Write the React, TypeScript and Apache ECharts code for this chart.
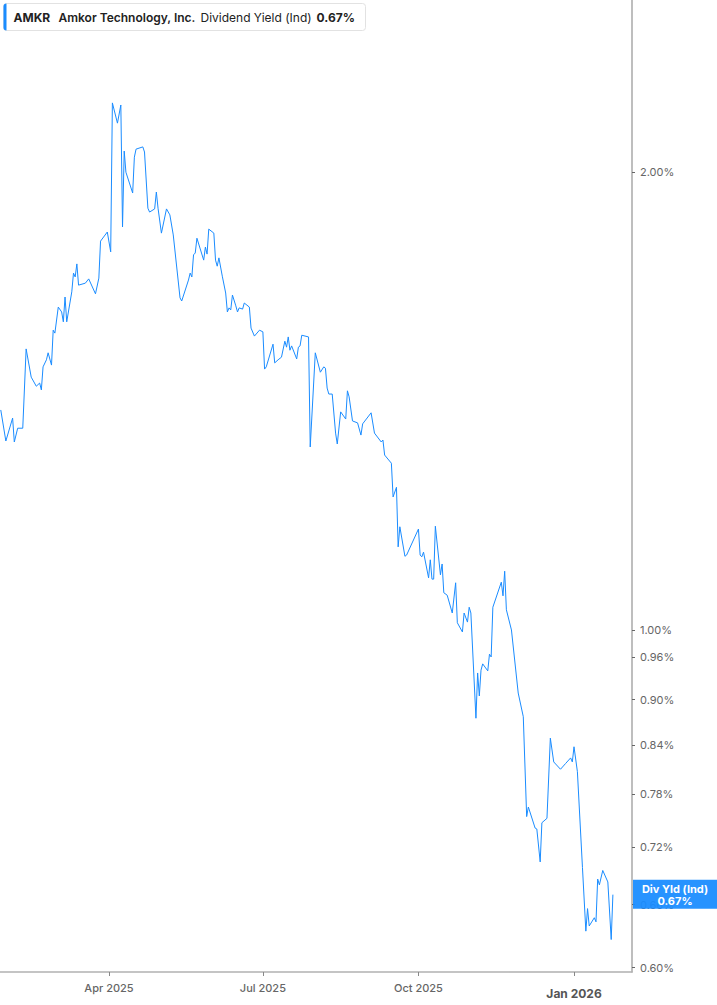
import React, { useEffect, useRef } from 'react'
import * as echarts from 'echarts'

// AMKR dividend yield (%)
const dates = [
  '2025-01-27','2025-01-30','2025-02-03','2025-02-04','2025-02-06','2025-02-09','2025-02-11','2025-02-14','2025-02-17','2025-02-19',
  '2025-02-20','2025-02-21','2025-02-23','2025-02-24','2025-02-26','2025-02-27','2025-02-28','2025-03-02','2025-03-04','2025-03-05',
  '2025-03-06','2025-03-07','2025-03-10','2025-03-11','2025-03-12','2025-03-13','2025-03-14','2025-03-18','2025-03-20','2025-03-24',
  '2025-03-26','2025-03-27','2025-03-31','2025-04-02','2025-04-03','2025-04-06','2025-04-08','2025-04-09','2025-04-10','2025-04-11',
  '2025-04-15','2025-04-16','2025-04-17','2025-04-21','2025-04-22','2025-04-24','2025-04-25','2025-04-28','2025-04-29','2025-04-30',
  '2025-05-02','2025-05-05','2025-05-07','2025-05-09','2025-05-13','2025-05-14','2025-05-18','2025-05-19','2025-05-20','2025-05-21',
  '2025-05-22','2025-05-23','2025-05-27','2025-05-28','2025-05-29','2025-05-30','2025-06-02','2025-06-03','2025-06-04','2025-06-05',
  '2025-06-07','2025-06-09','2025-06-10','2025-06-11','2025-06-12','2025-06-13','2025-06-15','2025-06-16','2025-06-17','2025-06-19',
  '2025-06-20','2025-06-23','2025-06-24','2025-06-26','2025-06-29','2025-07-01','2025-07-02','2025-07-03','2025-07-07','2025-07-08',
  '2025-07-10','2025-07-12','2025-07-14','2025-07-15','2025-07-16','2025-07-17','2025-07-18','2025-07-21','2025-07-22','2025-07-23',
  '2025-07-24','2025-07-28','2025-07-29','2025-08-01','2025-08-04','2025-08-06','2025-08-07','2025-08-08','2025-08-09','2025-08-11',
  '2025-08-13','2025-08-14','2025-08-16','2025-08-19','2025-08-20','2025-08-21','2025-08-23','2025-08-26','2025-08-28','2025-08-29',
  '2025-09-03','2025-09-05','2025-09-09','2025-09-10','2025-09-11','2025-09-15','2025-09-16','2025-09-18','2025-09-19','2025-09-20',
  '2025-09-23','2025-09-24','2025-10-01','2025-10-02','2025-10-03','2025-10-04','2025-10-07','2025-10-08','2025-10-09','2025-10-10',
  '2025-10-11','2025-10-14','2025-10-15','2025-10-16','2025-10-18','2025-10-21','2025-10-23','2025-10-24','2025-10-27','2025-10-28',
  '2025-10-30','2025-10-31','2025-11-01','2025-11-04','2025-11-05','2025-11-06','2025-11-07','2025-11-08','2025-11-11','2025-11-12',
  '2025-11-13','2025-11-14','2025-11-19','2025-11-20','2025-11-21','2025-11-22','2025-11-25','2025-11-29','2025-12-02','2025-12-04',
  '2025-12-05','2025-12-09','2025-12-10','2025-12-12','2025-12-13','2025-12-16','2025-12-18','2025-12-20','2025-12-24','2025-12-27',
  '2025-12-30','2025-12-31','2026-01-01','2026-01-03','2026-01-06','2026-01-08','2026-01-09','2026-01-10','2026-01-13','2026-01-14',
  '2026-01-15','2026-01-16','2026-01-18','2026-01-21','2026-01-23','2026-01-24',
]
const yields = [
  1.395,1.331,1.378,1.329,1.357,1.357,1.530,1.466,1.446,1.453,
  1.438,1.489,1.505,1.521,1.493,1.574,1.567,1.630,1.618,1.594,
  1.655,1.594,1.668,1.716,1.706,1.740,1.685,1.690,1.701,1.663,
  1.703,1.801,1.826,1.772,2.220,2.153,2.213,1.840,2.064,1.999,
  1.937,2.045,2.070,2.077,2.061,1.893,1.882,1.891,1.940,1.893,
  1.823,1.891,1.874,1.818,1.653,1.645,1.698,1.716,1.706,1.764,
  1.769,1.809,1.750,1.785,1.766,1.834,1.823,1.750,1.734,1.756,
  1.708,1.665,1.618,1.628,1.623,1.660,1.633,1.618,1.628,1.625,
  1.640,1.630,1.579,1.560,1.574,1.570,1.484,1.489,1.541,1.498,
  1.505,1.511,1.548,1.534,1.558,1.527,1.537,1.507,1.534,1.537,
  1.562,1.558,1.319,1.521,1.477,1.489,1.486,1.442,1.429,1.429,
  1.347,1.325,1.391,1.376,1.436,1.423,1.372,1.368,1.343,1.366,
  1.389,1.347,1.329,1.333,1.303,1.287,1.223,1.241,1.134,1.169,
  1.118,1.120,1.165,1.120,1.117,1.125,1.082,1.112,1.080,1.080,
  1.170,1.087,1.105,1.058,1.054,1.026,1.074,1.011,0.997,1.026,
  1.012,1.035,1.026,0.875,0.937,0.905,0.941,0.950,0.940,0.964,
  0.960,1.035,1.075,1.053,1.093,1.031,1.000,0.909,0.877,0.754,
  0.765,0.741,0.740,0.704,0.747,0.752,0.849,0.819,0.810,0.817,
  0.824,0.819,0.838,0.807,0.698,0.634,0.656,0.639,0.647,0.643,
  0.686,0.680,0.695,0.683,0.626,0.67,
]
const yTicks = [0.6, 0.66, 0.72, 0.78, 0.84, 0.9, 0.96, 1.0, 2.0]
const xTicks = ['2025-04-01', '2025-07-01', '2025-10-01', '2026-01-01']
const months = ['Jan','Feb','Mar','Apr','May','Jun','Jul','Aug','Sep','Oct','Nov','Dec']

const BLUE = '#1a8cff'
const FONT = 'Inter, "Noto Sans", sans-serif'
const ts = (s: string) => Date.parse(s + 'T00:00:00Z')

export default function App() {
  const ref = useRef<HTMLDivElement>(null)

  useEffect(() => {
    if (!ref.current) return
    const chart = echarts.init(ref.current, null, { renderer: 'svg' })
    const last = yields[yields.length - 1]
    const lastTxt = last.toFixed(2) + '%'
    chart.setOption({
      animation: false,
      textStyle: { fontFamily: FONT },
      grid: { left: 0, right: 85, top: 0, bottom: 33, containLabel: false },
      // time on a plain value axis (ms since epoch, UTC)
      xAxis: {
        type: 'value',
        min: Date.UTC(2025, 0, 26, 13),
        max: Date.UTC(2026, 1, 4, 7),
        axisLine: { onZero: false, lineStyle: { color: '#b0b0b0', width: 1.5 } },
        axisTick: { customValues: xTicks.map(ts), length: 4, lineStyle: { color: '#888' } },
        splitLine: { show: false },
        axisLabel: {
          customValues: xTicks.map(ts),
          margin: 10,
          color: '#666',
          fontSize: 11,
          fontWeight: 500,
          fontFamily: FONT,
          formatter: (v: number) => {
            const d = new Date(v)
            const t = months[d.getUTCMonth()] + ' ' + d.getUTCFullYear()
            return d.getUTCMonth() === 0 ? '{b|' + t + '}' : t
          },
          rich: { b: { fontWeight: 'bold', fontSize: 12, color: '#555', fontFamily: FONT, padding: [5, 0, 0, 0] } },
        },
      },
      yAxis: {
        type: 'value',
        position: 'right',
        min: Math.log(0.596),
        max: Math.log(2.594),
        axisLine: { show: true, onZero: false, lineStyle: { color: '#a8a8a8', width: 1.5 } },
        axisTick: { show: true, customValues: yTicks.map(Math.log), length: 3, lineStyle: { color: '#666' } },
        splitLine: { show: false },
        axisLabel: {
          customValues: yTicks.map(Math.log),
          margin: 8,
          color: '#666',
          fontSize: 11,
          fontFamily: FONT,
          formatter: (v: number) => Math.exp(v).toFixed(2) + '%',
        },
      },
      series: [{
        type: 'line',
        data: dates.map((d, i) => [ts(d), Math.log(yields[i])]),
        showSymbol: false,
        lineStyle: { color: BLUE, width: 1 },
        itemStyle: { color: BLUE },
        clip: true,
        markLine: {
          silent: true,
          symbol: 'none',
          lineStyle: { color: 'rgba(0,0,0,0)', width: 0, type: 'solid' },
          data: [{ yAxis: Math.log(last) }],
          label: {
            show: true,
            position: 'end',
            distance: 1,
            backgroundColor: 'rgba(26,140,255,0.94)',
            padding: [3, 4, 2, 4],
            formatter: '{a|Div Yld (Ind)}\n{a|' + lastTxt + '}',
            rich: { a: { width: 76, align: 'center', color: '#fff', fontWeight: 'bold', fontSize: 11, lineHeight: 12, fontFamily: FONT } },
          },
        },
      }],
      graphic: [{
        type: 'group',
        left: 3,
        top: 3,
        children: [
          { type: 'rect', shape: { x: 0, y: 0, width: 362, height: 27, r: 3 }, style: { fill: '#fff', stroke: '#e2e2e2', lineWidth: 1 } },
          { type: 'rect', shape: { x: 0, y: 0, width: 3, height: 27, r: [3, 0, 0, 3] }, style: { fill: BLUE } },
          { type: 'text', x: 10, y: 14, style: { text: 'AMKR', fill: '#222', font: 'bold 12px ' + FONT, verticalAlign: 'middle' } },
          { type: 'text', x: 55, y: 14, style: { text: 'Amkor Technology, Inc.', fill: '#222', font: '600 12px ' + FONT, verticalAlign: 'middle' } },
          { type: 'text', x: 197, y: 14, style: { text: 'Dividend Yield (Ind)', fill: '#222', font: '12px ' + FONT, verticalAlign: 'middle' } },
          { type: 'text', x: 313, y: 14, style: { text: lastTxt, fill: '#222', font: 'bold 12px ' + FONT, verticalAlign: 'middle' } },
        ],
      }],
    })
    return () => chart.dispose()
  }, [])

  return <div ref={ref} style={{ position: 'absolute', left: 0, top: 0, width: 717, height: 1005, background: '#fff' }} />
}
